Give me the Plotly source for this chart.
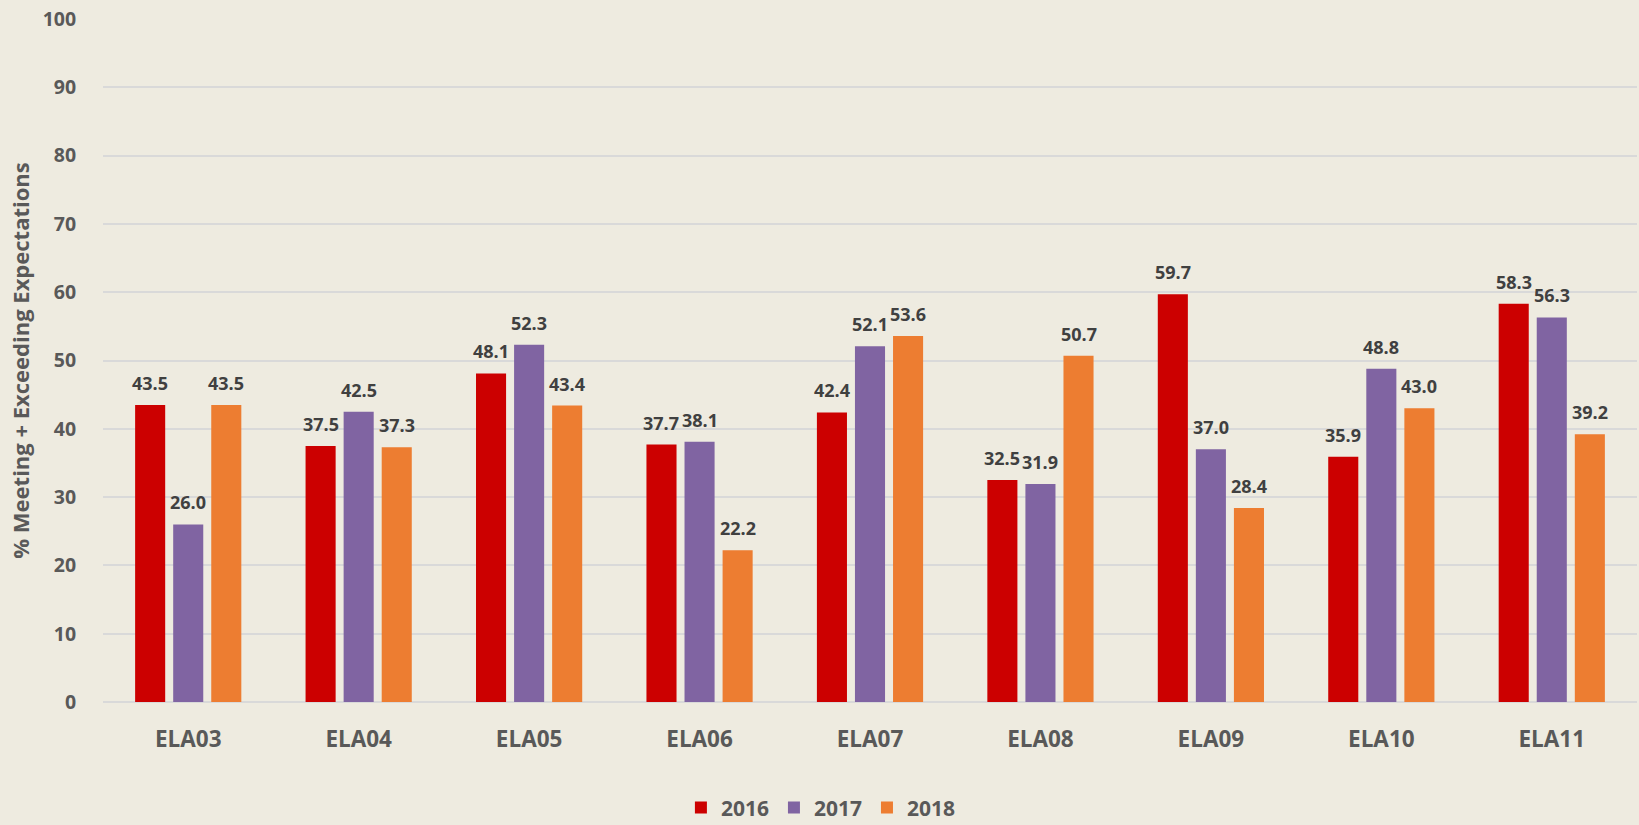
import plotly.graph_objects as go

categories = ["ELA03", "ELA04", "ELA05", "ELA06", "ELA07", "ELA08", "ELA09", "ELA10", "ELA11"]
years = ["2016", "2017", "2018"]
values_2016 = [43.5, 37.5, 48.1, 37.7, 42.4, 32.5, 59.7, 35.9, 58.3]
values_2017 = [26.0, 42.5, 52.3, 38.1, 52.1, 31.9, 37.0, 48.8, 56.3]
values_2018 = [43.5, 37.3, 43.4, 22.2, 53.6, 50.7, 28.4, 43.0, 39.2]
y_ticks = [0, 10, 20, 30, 40, 50, 60, 70, 80, 90, 100]

series = [values_2016, values_2017, values_2018]
colors = ["#CC0000", "#8064A2", "#ED7D31"]
BG = "#EEEBE0"
FONT = "Open Sans"
TXT = "#595959"

W, H = 1639, 825
ML, MR, MT, MB = 103, 2, 19, 123
BARGAP, BARGROUPGAP = 0.33, 0.21

fig = go.Figure()
for name, vals, col in zip(years, series, colors):
    fig.add_trace(go.Bar(
        x=categories, y=vals, name=name,
        marker=dict(color=col, line=dict(width=0)),
        cliponaxis=False, hoverinfo="x+y+name",
    ))

# data labels as annotations placed above each bar of the group
cat_px = (W - ML - MR) / len(categories)
slot_px = cat_px * (1 - BARGAP) / len(series)
for i, vals in enumerate(series):
    shift = (i - (len(series) - 1) / 2) * slot_px
    for c, v in zip(categories, vals):
        fig.add_annotation(
            x=c, y=v, xref="x", yref="y", text=f"{v:.1f}", showarrow=False,
            xanchor="center", yanchor="bottom", xshift=shift, yshift=8,
            font=dict(family=FONT, size=18, color="#404040", weight="bold"),
        )

fig.update_layout(
    width=W, height=H,
    paper_bgcolor=BG, plot_bgcolor=BG,
    margin=dict(l=ML, r=MR, t=MT, b=MB, autoexpand=False),
    barmode="group", bargap=BARGAP, bargroupgap=BARGROUPGAP,
    font=dict(family=FONT, color=TXT),
    legend=dict(orientation="h", x=0.468, xanchor="center", y=-0.155, yanchor="middle",
                font=dict(family=FONT, size=21, color=TXT, weight="bold"),
                traceorder="normal", bgcolor="rgba(0,0,0,0)", itemwidth=30),
    showlegend=True,
)
fig.update_yaxes(
    range=[0, 100], tickvals=y_ticks, showgrid=True, gridcolor="#D9D9D9", gridwidth=1.5,
    zeroline=True, zerolinecolor="#D9D9D9", zerolinewidth=1.5,
    ticks="outside", ticklen=22, tickcolor="rgba(0,0,0,0)",
    tickfont=dict(family=FONT, size=19.5, color=TXT, weight="bold"),
    title=dict(text="% Meeting + Exceeding Expectations", standoff=6,
               font=dict(family=FONT, size=22, color=TXT, weight="bold")),
    automargin=False,
)
fig.update_xaxes(
    showgrid=False, showline=False, ticks="outside", ticklen=17, tickcolor="rgba(0,0,0,0)",
    tickfont=dict(family=FONT, size=22.5, color=TXT, weight="bold"),
    automargin=False,
)

fig.write_html("out.html", config={"displayModeBar": False},
               post_script="document.body.style.margin='0';document.body.style.overflow='hidden';")
